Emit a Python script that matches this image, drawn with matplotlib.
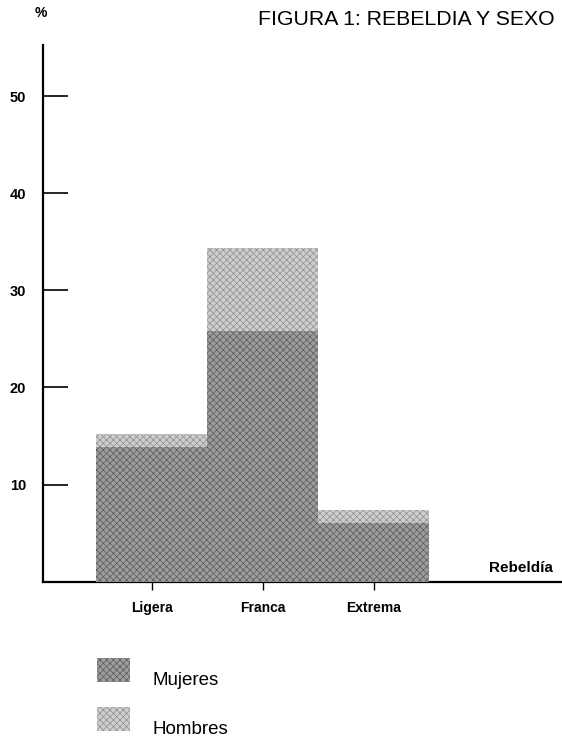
import matplotlib
matplotlib.use("Agg")
import matplotlib.pyplot as plt
from matplotlib.patches import Rectangle
import numpy as np

categories = ["Ligera", "Franca", "Extrema"]
mujeres = [13.9, 25.8, 6.0]
hombres = [15.2, 34.4, 7.4]
y_ticks = [10, 20, 30, 40, 50]

c_muj = "#9c9c9c"
c_muj_dot = "#5a5a5a"
c_hom = "#cecece"
c_hom_dot = "#8e8e8e"

plt.rcParams['font.family'] = ['Liberation Sans', 'DejaVu Sans']
plt.rcParams['hatch.linewidth'] = 0.5

fig = plt.figure(figsize=(5.62, 7.39), dpi=100)
ax = fig.add_axes([0.0765, 0.2131, 0.9235, 0.7260])

x = np.arange(len(categories))
ax.bar(x, hombres, width=1.0, color=c_hom, edgecolor=c_hom_dot, hatch="xxxxx",
       linewidth=0, zorder=2)
ax.bar(x, mujeres, width=1.0, color=c_muj, edgecolor=c_muj_dot, hatch="xxxxx",
       linewidth=0, zorder=3)

ax.set_xlim(-0.982, 3.694)
ax.set_ylim(0, 55.3)

for s in ["top", "right"]:
    ax.spines[s].set_visible(False)
for s in ["left", "bottom"]:
    ax.spines[s].set_linewidth(1.6)
    ax.spines[s].set_color("black")

ax.set_yticks(y_ticks)
ax.set_yticklabels([str(v) for v in y_ticks], fontweight="bold", fontsize=10.5)
ax.tick_params(axis="y", direction="in", length=18, width=1.2, pad=12)

ax.set_xticks(x)
ax.set_xticklabels(categories, fontweight="bold", fontsize=10)
ax.tick_params(axis="x", direction="out", length=6, width=1.0, pad=8)

ax.text(0.982, 0.012, "Rebeldía", transform=ax.transAxes, ha="right", va="bottom",
        fontweight="bold", fontsize=11)

fig.text(0.073, 0.982, "%", ha="center", va="center", fontweight="bold", fontsize=10)
fig.text(0.459, 0.974, "FIGURA 1: REBELDIA Y SEXO", ha="left", va="center",
         fontsize=15.3)

# legend
fig.patches.append(Rectangle((0.1726, 0.0771), 0.0587, 0.0325, transform=fig.transFigure,
                             facecolor=c_muj, edgecolor=c_muj_dot, linewidth=0,
                             hatch="xxxxx", figure=fig))
fig.patches.append(Rectangle((0.1726, 0.0108), 0.0587, 0.0325, transform=fig.transFigure,
                             facecolor=c_hom, edgecolor=c_hom_dot, linewidth=0,
                             hatch="xxxxx", figure=fig))
fig.text(0.2705, 0.0798, "Mujeres", ha="left", va="center", fontsize=13.5)
fig.text(0.2705, 0.0135, "Hombres", ha="left", va="center", fontsize=13.5)

fig.savefig("out.png", dpi=100)
